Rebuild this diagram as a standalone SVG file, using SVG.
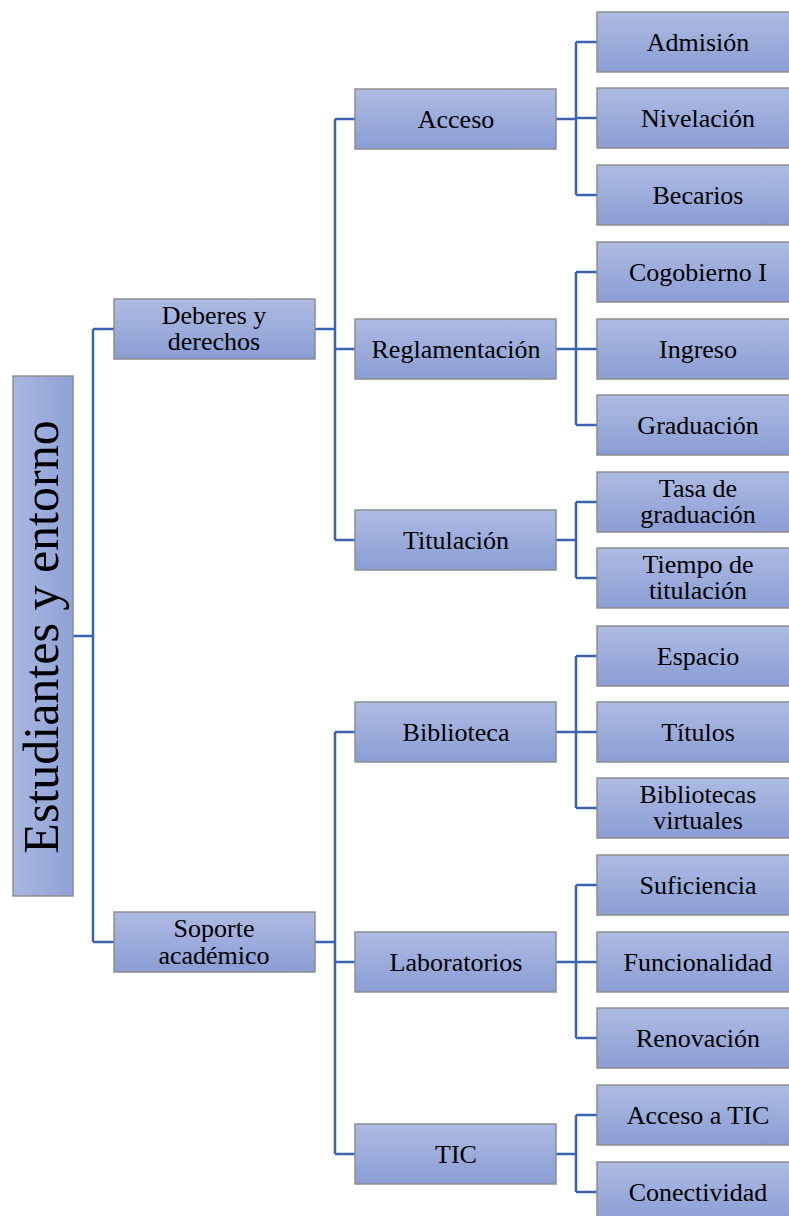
<svg xmlns="http://www.w3.org/2000/svg" width="789" height="1216" viewBox="0 0 789 1216">
<defs>
<linearGradient id="g" x1="0" y1="0" x2="0" y2="1">
<stop offset="0" stop-color="#aebbe2"/>
<stop offset="1" stop-color="#8a9dd4"/>
</linearGradient>
<linearGradient id="gr" x1="0" y1="0" x2="1" y2="0">
<stop offset="0" stop-color="#a9b7e0"/>
<stop offset="1" stop-color="#8fa1d6"/>
</linearGradient>
<style>
rect.b{fill:url(#g);stroke:#8e8e8e;stroke-width:1.5}
rect.r{fill:url(#gr);stroke:#8e8e8e;stroke-width:1.5}
text{font-family:"Liberation Serif","Times New Roman",serif;fill:#000;text-anchor:middle}
.t{font-size:26px}
.c path{fill:none;stroke:#3b63ae;stroke-width:2.5}
</style>
</defs>
<g class="c" id="connectors">
<path d="M73 636H93M93 329V942M93 329H114M93 942H114"/>
<path d="M315 329H335M335 119V540M335 119H355M335 349H355M335 540H355"/>
<path d="M315 942H335M335 732V1154M335 732H355M335 962H355M335 1154H355"/>
<path d="M556 119H576M576 42V195M576 42H597M576 118H597M576 195H597"/>
<path d="M556 349H576M576 272V425M576 272H597M576 349H597M576 425H597"/>
<path d="M556 540H576M576 502V578M576 502H597M576 578H597"/>
<path d="M556 732H576M576 656V808M576 656H597M576 732H597M576 808H597"/>
<path d="M556 962H576M576 885V1038M576 885H597M576 962H597M576 1038H597"/>
<path d="M556 1154H576M576 1115V1192M576 1115H597M576 1192H597"/>
</g>
<g id="root"><rect class="r" x="13" y="376" width="60" height="520"/><text transform="translate(58 637) rotate(-90)" font-size="50">Estudiantes y entorno</text></g>
<g id="deberes"><rect class="b" x="114" y="299" width="201" height="60"/><text class="t" x="214" y="324">Deberes y</text><text class="t" x="214" y="350">derechos</text></g>
<g id="soporte"><rect class="b" x="114" y="912" width="201" height="60"/><text class="t" x="214" y="937">Soporte</text><text class="t" x="214" y="964">académico</text></g>
<g id="acceso"><rect class="b" x="355" y="89" width="201" height="60"/><text class="t" x="456" y="128">Acceso</text></g>
<g id="reglamentacion"><rect class="b" x="355" y="319" width="201" height="60"/><text class="t" x="456" y="358">Reglamentación</text></g>
<g id="titulacion"><rect class="b" x="355" y="510" width="201" height="60"/><text class="t" x="456" y="549">Titulación</text></g>
<g id="biblioteca"><rect class="b" x="355" y="702" width="201" height="60"/><text class="t" x="456" y="741">Biblioteca</text></g>
<g id="laboratorios"><rect class="b" x="355" y="932" width="201" height="60"/><text class="t" x="456" y="971">Laboratorios</text></g>
<g id="tic"><rect class="b" x="355" y="1124" width="201" height="60"/><text class="t" x="456" y="1163">TIC</text></g>
<g id="admision"><rect class="b" x="597" y="12" width="202" height="60"/><text class="t" x="698" y="51">Admisión</text></g>
<g id="nivelacion"><rect class="b" x="597" y="88" width="202" height="60"/><text class="t" x="698" y="127">Nivelación</text></g>
<g id="becarios"><rect class="b" x="597" y="165" width="202" height="60"/><text class="t" x="698" y="204">Becarios</text></g>
<g id="cogobierno"><rect class="b" x="597" y="242" width="202" height="60"/><text class="t" x="698" y="281">Cogobierno I</text></g>
<g id="ingreso"><rect class="b" x="597" y="319" width="202" height="60"/><text class="t" x="698" y="358">Ingreso</text></g>
<g id="graduacion"><rect class="b" x="597" y="395" width="202" height="60"/><text class="t" x="698" y="434">Graduación</text></g>
<g id="tasa"><rect class="b" x="597" y="472" width="202" height="60"/><text class="t" x="698" y="497">Tasa de</text><text class="t" x="698" y="523">graduación</text></g>
<g id="tiempo"><rect class="b" x="597" y="548" width="202" height="60"/><text class="t" x="698" y="573">Tiempo de</text><text class="t" x="698" y="599">titulación</text></g>
<g id="espacio"><rect class="b" x="597" y="626" width="202" height="60"/><text class="t" x="698" y="665">Espacio</text></g>
<g id="titulos"><rect class="b" x="597" y="702" width="202" height="60"/><text class="t" x="698" y="741">Títulos</text></g>
<g id="virtuales"><rect class="b" x="597" y="778" width="202" height="60"/><text class="t" x="698" y="803">Bibliotecas</text><text class="t" x="698" y="829">virtuales</text></g>
<g id="suficiencia"><rect class="b" x="597" y="855" width="202" height="60"/><text class="t" x="698" y="894">Suficiencia</text></g>
<g id="funcionalidad"><rect class="b" x="597" y="932" width="202" height="60"/><text class="t" x="698" y="971">Funcionalidad</text></g>
<g id="renovacion"><rect class="b" x="597" y="1008" width="202" height="60"/><text class="t" x="698" y="1047">Renovación</text></g>
<g id="accesotic"><rect class="b" x="597" y="1085" width="202" height="60"/><text class="t" x="698" y="1124">Acceso a TIC</text></g>
<g id="conectividad"><rect class="b" x="597" y="1162" width="202" height="60"/><text class="t" x="698" y="1201">Conectividad</text></g>
</svg>
